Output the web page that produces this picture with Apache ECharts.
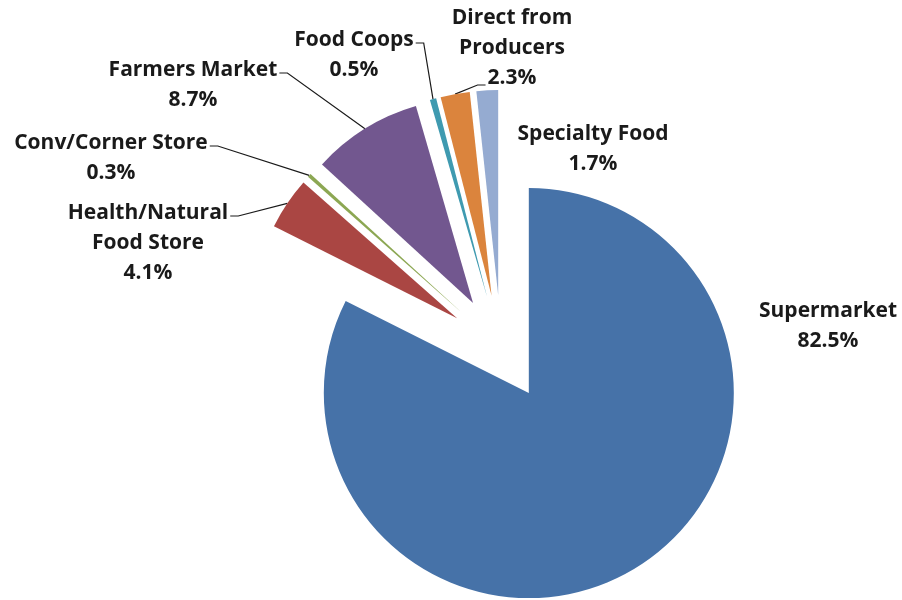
<!DOCTYPE html>
<html>
<head>
<meta charset="utf-8">
<script src="https://cdn.jsdelivr.net/npm/echarts@6/dist/echarts.min.js"></script>
<style>
html,body{margin:0;padding:0;background:#fff;}
#chart{width:902px;height:600px;}
</style>
</head>
<body>
<div id="chart"></div>
<script>
// ---- data ----
var categories = ['Supermarket', 'Health/Natural\nFood Store', 'Conv/Corner Store', 'Farmers Market', 'Food Coops', 'Direct from\nProducers', 'Specialty Food'];
var shares = [82.5, 4.1, 0.3, 8.7, 0.5, 2.3, 1.7];

// ---- styling / layout (not data) ----
var colors = ['#4672A8', '#AA4643', '#8CA753', '#72578F', '#3F9AB0', '#DB843D', '#95ABD1'];
var labelSpots = [[828, 326], [148, 243], [111, 158], [193, 85], [354, 55], [512, 48], [593, 149]];
// where the leader line meets the label: none, right end of first line, left end of last line
var lineAnchor = ['none', 'firstRight', 'firstRight', 'firstRight', 'firstRight', 'lastLeft', 'none'];
var pieCenter = [501, 348];
var pieRadius = 205;
var explode = 53;
var labelFont = 'bold 21px "Open Sans"';
var lineH = 30;

var measureCtx = document.createElement('canvas').getContext('2d');
measureCtx.font = labelFont;
function textW(t) { return measureCtx.measureText(t).width; }

function labelText(i) { return categories[i] + '\n' + shares[i].toFixed(1) + '%'; }

var chart = echarts.init(document.getElementById('chart'));

var total = shares.reduce(function (a, b) { return a + b; }, 0);
var cum = 0;
var series = categories.map(function (c, i) {
  var mid = (cum + shares[i] / 2) / total * 2 * Math.PI;
  cum += shares[i];
  var dx = Math.sin(mid), dy = -Math.cos(mid);
  var cx = pieCenter[0] + dx * explode, cy = pieCenter[1] + dy * explode;
  var arcMid = [cx + dx * pieRadius, cy + dy * pieRadius];
  var hasLine = lineAnchor[i] !== 'none';
  return {
    type: 'pie',
    center: [cx, cy],
    radius: [0, pieRadius],
    startAngle: 90,
    clockwise: true,
    avoidLabelOverlap: false,
    silent: true,
    emphasis: { disabled: true },
    labelLine: {
      show: hasLine,
      length: 15,
      length2: 10,
      lineStyle: { color: '#1a1a1a', width: 1.2 }
    },
    label: {
      show: true,
      position: 'outside',
      formatter: function (p) { return labelText(i); },
      fontFamily: 'Open Sans',
      fontWeight: 'bold',
      fontSize: 21,
      lineHeight: lineH,
      color: '#1a1a1a',
      align: 'center'
    },
    labelLayout: function (p) {
      var s = labelSpots[i];
      var res = { x: s[0], y: s[1], align: 'center', verticalAlign: 'middle' };
      if (hasLine) {
        var lines = labelText(i).split('\n');
        var h = lines.length * lineH;
        var pts;
        if (lineAnchor[i] === 'firstRight') {
          var w1 = textW(lines[0]);
          var ax = s[0] + w1 / 2 + 2, ay = s[1] - h / 2 + lineH / 2 + 3;
          pts = [arcMid, [ax + 8, ay], [ax, ay]];
        } else {
          var wl = textW(lines[lines.length - 1]);
          var bx = s[0] - wl / 2 - 2, by = s[1] + h / 2 - lineH / 2 + 7;
          pts = [arcMid, [bx - 8, by], [bx, by]];
        }
        res.labelLinePoints = pts;
      }
      return res;
    },
    data: categories.map(function (c2, j) {
      var own = (j === i);
      return {
        name: c2,
        value: shares[j],
        itemStyle: { color: own ? colors[j] : 'rgba(0,0,0,0)' },
        label: { show: own },
        labelLine: { show: own && hasLine }
      };
    })
  };
});

chart.setOption({ animation: false, series: series });
</script>
</body>
</html>
